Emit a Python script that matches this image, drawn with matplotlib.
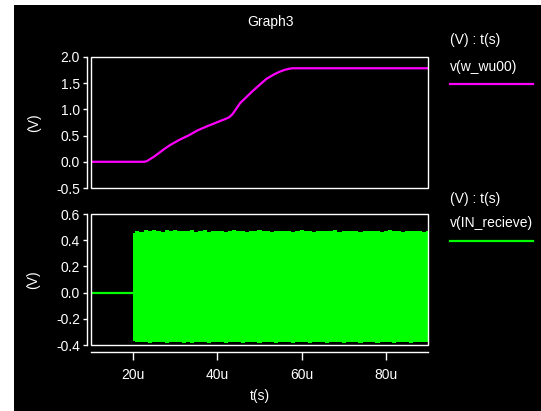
import matplotlib
matplotlib.use("Agg")
import matplotlib.pyplot as plt
from matplotlib.patches import Rectangle
from matplotlib.lines import Line2D

plt.rcParams['font.family'] = ['Liberation Sans', 'DejaVu Sans']

# ---- data (time in microseconds) ----
t_top = [10, 22.7, 23.3, 24.0, 25.0, 26.0, 27.5, 29, 31, 33.1, 35.3, 37.6, 39.5, 41, 42.0, 42.8,
         43.6, 45.4, 48.5, 51.6, 53.5, 54.8, 56.0, 57.0, 57.8, 90]
v_top = [0, 0, 0.015, 0.05, 0.1, 0.16, 0.25, 0.33, 0.42, 0.5, 0.6, 0.68, 0.74, 0.79, 0.82, 0.85,
         0.91, 1.12, 1.36, 1.58, 1.67, 1.72, 1.755, 1.775, 1.785, 1.785]

t_flat = [10, 20]
v_flat = [0, 0]

t_band = [20, 21, 22, 23, 24, 25, 26, 27, 28, 29, 30, 31, 32, 33, 34, 35, 36, 37, 38, 39,
          40, 41, 42, 43, 44, 45, 46, 47, 48, 49, 50, 51, 52, 53, 54, 55, 56, 57, 58, 59,
          60, 61, 62, 63, 64, 65, 66, 67, 68, 69, 70, 71, 72, 73, 74, 75, 76, 77, 78, 79,
          80, 81, 82, 83, 84, 85, 86, 87, 88, 89, 90]
v_upper = [0.455, 0.47, 0.462, 0.475, 0.468, 0.478, 0.47, 0.466, 0.476, 0.472, 0.478, 0.468, 0.474, 0.47, 0.478, 0.466, 0.47, 0.475, 0.466, 0.472,
           0.468, 0.474, 0.466, 0.47, 0.476, 0.468, 0.472, 0.466, 0.474, 0.47, 0.476, 0.468, 0.472, 0.466, 0.47, 0.474, 0.468, 0.472, 0.466, 0.47,
           0.476, 0.468, 0.472, 0.466, 0.47, 0.474, 0.468, 0.472, 0.478, 0.466, 0.47, 0.474, 0.468, 0.472, 0.466, 0.47, 0.474, 0.468, 0.472, 0.466,
           0.47, 0.476, 0.468, 0.472, 0.466, 0.47, 0.474, 0.468, 0.472, 0.466, 0.47]
v_lower = [-0.372, -0.378, -0.38, -0.376, -0.382, -0.378, -0.38, -0.376, -0.382, -0.378, -0.38, -0.376, -0.382, -0.378, -0.384, -0.376, -0.38, -0.378, -0.382, -0.376,
           -0.38, -0.378, -0.382, -0.376, -0.38, -0.378, -0.382, -0.376, -0.38, -0.378, -0.382, -0.376, -0.38, -0.378, -0.382, -0.376, -0.38, -0.378, -0.382, -0.376,
           -0.38, -0.378, -0.382, -0.376, -0.38, -0.378, -0.382, -0.376, -0.38, -0.378, -0.382, -0.376, -0.38, -0.378, -0.382, -0.376, -0.38, -0.378, -0.382, -0.376,
           -0.38, -0.378, -0.382, -0.376, -0.38, -0.378, -0.382, -0.376, -0.38, -0.378, -0.38]

x_ticks = [20, 40, 60, 80]
x_labels = ['20u', '40u', '60u', '80u']
top_yticks = [-0.5, 0.0, 0.5, 1.0, 1.5, 2.0]
bot_yticks = [-0.4, -0.2, 0.0, 0.2, 0.4, 0.6]

MAG = '#ff00ff'
GRN = '#00ff00'
W, H = 541, 411
FS = 10

fig = plt.figure(figsize=(W / 100, H / 100), dpi=100)
fig.patch.set_facecolor('white')
fig.patches.append(Rectangle((14 / W, 0), 1 - 14 / W, 1 - 5 / H, transform=fig.transFigure,
                             facecolor='black', edgecolor='none', zorder=-10))

def px_to_fig(x, y):
    return x / W, 1 - y / H

ax1 = fig.add_axes([91 / W, 1 - 188 / H, 337 / W, 131 / H])
ax2 = fig.add_axes([91 / W, 1 - 345 / H, 337 / W, 131 / H])

for ax in (ax1, ax2):
    ax.set_facecolor('black')
    for s in ax.spines.values():
        s.set_visible(False)
    ax.spines['left'].set_visible(True)
    ax.spines['left'].set_position(('outward', 3))
    ax.spines['left'].set_color('white')
    ax.spines['left'].set_linewidth(1.0)
    ax.add_patch(Rectangle((0, 0), 1, 1, transform=ax.transAxes, fill=False,
                           edgecolor='white', linewidth=1.0, clip_on=False, zorder=5))
    ax.set_xlim(10, 90)
    ax.tick_params(axis='y', colors='white', labelcolor='white', length=3, width=1.0,
                   pad=2, labelsize=FS)
    ax.set_ylabel('(V)', color='white', fontsize=FS, labelpad=11)

ax1.plot(t_top, v_top, color=MAG, lw=1.6)
ax1.set_ylim(-0.5, 2.0)
ax1.set_yticks(top_yticks)
ax1.set_yticklabels([f'{v:.1f}' for v in top_yticks])
ax1.set_xticks([])

ax2.plot(t_flat, v_flat, color=GRN, lw=1.6)
ax2.fill_between(t_band, v_lower, v_upper, step='mid', color=GRN, lw=0)
ax2.set_ylim(-0.4, 0.6)
ax2.set_yticks(bot_yticks)
ax2.set_yticklabels([f'{v:.1f}' for v in bot_yticks])
ax2.spines['bottom'].set_visible(True)
ax2.spines['bottom'].set_position(('outward', 5))
ax2.spines['bottom'].set_color('white')
ax2.spines['bottom'].set_linewidth(1.0)
ax2.set_xticks(x_ticks)
ax2.set_xticklabels(x_labels)
ax2.tick_params(axis='x', colors='white', labelcolor='white', length=6, width=1.0,
                pad=5.5, labelsize=FS)
ax2.set_xlabel('t(s)', color='white', fontsize=FS, labelpad=5)

# title
fig.text(*px_to_fig(271, 22), 'Graph3', color='white', fontsize=FS, ha='center', va='center')

# legends
fig.text(*px_to_fig(450, 40), '(V) : t(s)', color='white', fontsize=FS, ha='left', va='center')
fig.text(*px_to_fig(450, 67), 'v(w_wu00)', color='white', fontsize=FS, ha='left', va='center')
fig.lines.append(Line2D([450 / W, 533 / W], [1 - 84.5 / H, 1 - 84.5 / H], transform=fig.transFigure,
                        color=MAG, lw=1.6))
fig.text(*px_to_fig(450, 199), '(V) : t(s)', color='white', fontsize=FS, ha='left', va='center')
fig.text(*px_to_fig(450, 223), 'v(IN_recieve)', color='white', fontsize=FS, ha='left', va='center')
fig.lines.append(Line2D([450 / W, 533 / W], [1 - 241.5 / H, 1 - 241.5 / H], transform=fig.transFigure,
                        color=GRN, lw=1.6))

fig.savefig('out.png', dpi=100, facecolor=fig.get_facecolor())
